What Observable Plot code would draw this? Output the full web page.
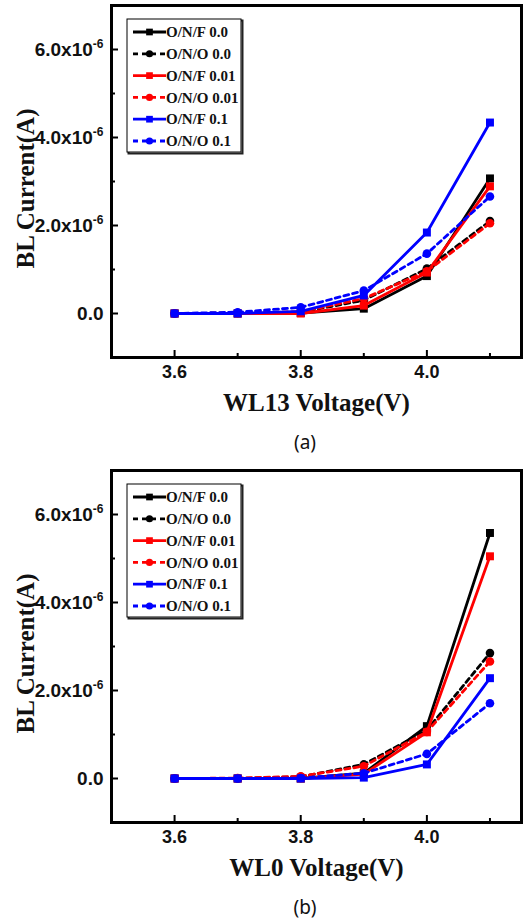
<!DOCTYPE html>
<html><head><meta charset="utf-8">
<script src="https://cdn.jsdelivr.net/npm/d3@7"></script>
<script src="https://cdn.jsdelivr.net/npm/@observablehq/plot@0.6"></script>
<style>
body{margin:0;background:#fff;width:527px;height:924px;overflow:hidden}
.panel{position:relative;width:527px}
.cap{position:relative;width:527px;font-family:"Noto Sans",sans-serif;font-size:19px;color:#111}
.cap span{position:absolute;left:305px;transform:translateX(-50%);}
</style></head><body><div id="root"></div>
<script>
// ---- data ----
const volts = [3.6, 3.7, 3.8, 3.9, 4.0, 4.1];
const seriesNames = ["O/N/F 0.0", "O/N/O 0.0", "O/N/F 0.01", "O/N/O 0.01", "O/N/F 0.1", "O/N/O 0.1"];
const seriesColors = ["#000000", "#000000", "#ff0000", "#ff0000", "#0000ff", "#0000ff"];
const seriesDashed = [false, true, false, true, false, true];

// panel (a): WL13, current in units of 1e-6 A
const a_ONF_00  = [0, 0,    0.01, 0.11, 0.85, 3.07];
const a_ONO_00  = [0, 0.01, 0.03, 0.30, 1.02, 2.10];
const a_ONF_001 = [0, 0,    0.00, 0.18, 0.93, 2.89];
const a_ONO_001 = [0, 0.01, 0.04, 0.34, 0.96, 2.05];
const a_ONF_01  = [0, 0,    0.05, 0.41, 1.84, 4.34];
const a_ONO_01  = [0, 0.03, 0.14, 0.52, 1.36, 2.66];

// panel (b): WL0
const b_ONF_00  = [0, 0,    0.00, 0.12, 1.19, 5.58];
const b_ONO_00  = [0, 0,    0.04, 0.32, 1.10, 2.85];
const b_ONF_001 = [0, 0,    0.00, 0.10, 1.05, 5.05];
const b_ONO_001 = [0, 0.01, 0.05, 0.28, 1.06, 2.66];
const b_ONF_01  = [0, 0,    0.00, 0.02, 0.32, 2.28];
const b_ONO_01  = [0, 0,    0.01, 0.12, 0.56, 1.71];

const xMajorTicks = [3.6, 3.8, 4.0];
const xMinorTicks = [3.7, 3.9, 4.1];
const yMajorTicks = [0, 2, 4, 6];
const yMinorTicks = [1, 3, 5];
const xTitles = ["WL13 Voltage(V)", "WL0 Voltage(V)"];
const yTitle = "BL Current(A)";
const panelLabels = ["(a)", "(b)"];

const SANS = "'Liberation Sans', Arial, sans-serif";
const SERIF = "'Liberation Serif', 'Times New Roman', serif";

function makePanel(vals, xTitle, mt, h) {
  const W = 527, ml = 111, mr = 6, mb = 68;
  const fw = W - ml - mr, fh = h - mt - mb;
  const marks = [];
  marks.push(Plot.tickY(yMajorTicks, {y: d => d, insetRight: fw - 7, stroke: "black", strokeWidth: 2}));
  marks.push(Plot.tickY(yMinorTicks, {y: d => d, insetRight: fw - 4, stroke: "black", strokeWidth: 2}));
  marks.push(Plot.tickX(xMajorTicks, {x: d => d, insetTop: fh - 7, stroke: "black", strokeWidth: 2}));
  marks.push(Plot.tickX(xMinorTicks, {x: d => d, insetTop: fh - 4, stroke: "black", strokeWidth: 2}));
  seriesNames.forEach((s, i) => {
    const data = volts.map((v, j) => ({v, I: vals[i][j]}));
    const lo = {x: "v", y: "I", stroke: seriesColors[i], strokeWidth: 2.8};
    if (seriesDashed[i]) lo.strokeDasharray = "5,4";
    marks.push(Plot.line(data, lo));
    marks.push(Plot.dot(data, {x: "v", y: "I", fill: seriesColors[i], stroke: "none",
      symbol: seriesDashed[i] ? "circle" : "square", r: seriesDashed[i] ? 4.3 : 4.5}));
  });
  marks.push(Plot.frame({stroke: "black", strokeWidth: 3}));
  marks.push(Plot.axisX({ticks: xMajorTicks, tickSize: 0, tickPadding: 8, tickFormat: d3.format(".1f"),
    label: null, fontSize: 18, fontWeight: "bold", fontFamily: SANS, fill: "#111"}));
  marks.push(Plot.axisY({ticks: yMajorTicks, tickSize: 0, tickPadding: 8,
    tickFormat: d => d === 0 ? "0.0" : d.toFixed(1) + "x10",
    label: null, fontSize: 19, fontWeight: "bold", fontFamily: SANS, fill: "#111"}));
  marks.push(Plot.text([xTitle], {frameAnchor: "bottom", text: d => d, dy: 45,
    textAnchor: "middle", lineAnchor: "middle",
    fontSize: 25, fontWeight: "bold", fontFamily: SERIF, fill: "#111"}));
  marks.push(Plot.text([yTitle], {frameAnchor: "left", text: d => d, rotate: -90, dx: -86, dy: 7,
    textAnchor: "middle", lineAnchor: "middle",
    fontSize: 25, fontWeight: "bold", fontFamily: SERIF, fill: "#111"}));

  const svg = Plot.plot({
    width: W, height: h, marginTop: mt, marginLeft: ml, marginRight: mr, marginBottom: mb,
    x: {domain: [3.5, 4.15]}, y: {domain: [-1, 7]},
    style: {background: "white", overflow: "visible"},
    marks
  });
  // superscript exponents
  d3.select(svg).selectAll('g[aria-label="y-axis tick label"] text').each(function () {
    const t = d3.select(this);
    if (t.text().endsWith("x10")) t.append("tspan").attr("dy", "-8").attr("font-size", "12").text("-6");
  });
  // legend
  const g = d3.select(svg).append("g").attr("text-anchor", "start");
  const bx = 127, by = mt + 14, bw = 114, bh = 133, rowH = 21.8;
  g.append("rect").attr("x", bx + 1.5).attr("y", by + 1.5).attr("width", bw).attr("height", bh)
    .attr("fill", "none").attr("stroke", "#222").attr("stroke-width", 2);
  g.append("rect").attr("x", bx).attr("y", by).attr("width", bw).attr("height", bh)
    .attr("fill", "white").attr("stroke", "black").attr("stroke-width", 1);
  seriesNames.forEach((s, i) => {
    const cy = by + 13 + i * rowH;
    g.append("line").attr("x1", 133).attr("x2", 166).attr("y1", cy).attr("y2", cy)
      .attr("stroke", seriesColors[i]).attr("stroke-width", 2.8)
      .attr("stroke-dasharray", seriesDashed[i] ? "5,4" : null);
    g.append("path").attr("transform", `translate(149.5,${cy})`)
      .attr("d", d3.symbol(seriesDashed[i] ? d3.symbolCircle : d3.symbolSquare, seriesDashed[i] ? 40 : 45)())
      .attr("fill", seriesColors[i]);
    g.append("text").attr("x", 166).attr("y", cy).attr("dy", "0.35em").attr("text-anchor", "start")
      .attr("font-family", SERIF).attr("font-weight", "bold").attr("font-size", 15).attr("fill", "#111")
      .text(s);
  });
  return svg;
}

const root = document.getElementById("root");
function addPanel(vals, idx, mt, h, capH) {
  const p = document.createElement("div"); p.className = "panel";
  p.appendChild(makePanel(vals, xTitles[idx], mt, h));
  root.appendChild(p);
  const c = document.createElement("div"); c.className = "cap";
  c.style.height = capH + "px"; c.style.lineHeight = capH + "px";
  const sp = document.createElement("span"); sp.textContent = panelLabels[idx];
  c.appendChild(sp); root.appendChild(c);
}
addPanel([a_ONF_00, a_ONO_00, a_ONF_001, a_ONO_001, a_ONF_01, a_ONO_01], 0, 5, 425, 35);
addPanel([b_ONF_00, b_ONO_00, b_ONF_001, b_ONO_001, b_ONF_01, b_ONO_01], 1, 10, 430, 34);
</script></body></html>
